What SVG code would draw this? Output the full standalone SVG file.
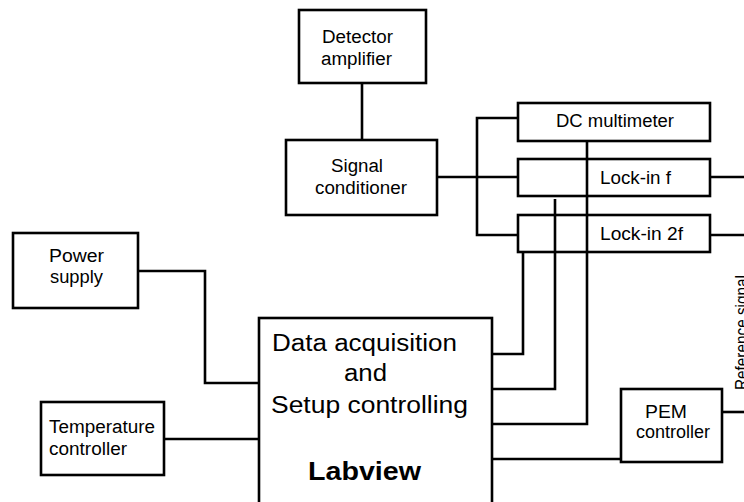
<svg xmlns="http://www.w3.org/2000/svg" width="744" height="502" viewBox="0 0 744 502">
<style>
.box{fill:#fff;stroke:#000;stroke-width:2.6}
.t{font-family:"Liberation Sans",Arial,sans-serif;font-size:18px;fill:#000}
.big{font-family:"Liberation Sans",Arial,sans-serif;font-size:23px;fill:#000}
.bold{font-family:"Liberation Sans",Arial,sans-serif;font-size:25px;font-weight:bold;fill:#000}
.c{fill:none;stroke:#000;stroke-width:2.6}
</style>
<rect width="744" height="502" fill="#fff"/>
<g id="detector">
<rect class="box" x="299" y="10" width="127" height="73"/>
<text class="t" x="322" y="43" textLength="71" lengthAdjust="spacingAndGlyphs">Detector</text>
<text class="t" x="321" y="65" textLength="71" lengthAdjust="spacingAndGlyphs">amplifier</text>
</g>
<g id="signal-conditioner">
<rect class="box" x="286" y="140" width="151" height="75"/>
<text class="t" x="331" y="172" textLength="52" lengthAdjust="spacingAndGlyphs">Signal</text>
<text class="t" x="315" y="194" textLength="92" lengthAdjust="spacingAndGlyphs">conditioner</text>
</g>
<g id="dc-multimeter">
<rect class="box" x="518" y="103" width="192" height="38"/>
<text class="t" x="556" y="127" textLength="118" lengthAdjust="spacingAndGlyphs">DC multimeter</text>
</g>
<g id="lockin-f">
<rect class="box" x="518" y="159" width="192" height="37"/>
<text class="t" x="600" y="184" textLength="71" lengthAdjust="spacingAndGlyphs">Lock-in f</text>
</g>
<g id="lockin-2f">
<rect class="box" x="518" y="215" width="192" height="37"/>
<text class="t" x="600" y="240" textLength="83" lengthAdjust="spacingAndGlyphs">Lock-in 2f</text>
</g>
<g id="power-supply">
<rect class="box" x="13" y="233" width="125" height="75"/>
<text class="t" x="49" y="262" textLength="55" lengthAdjust="spacingAndGlyphs">Power</text>
<text class="t" x="50" y="283" textLength="53" lengthAdjust="spacingAndGlyphs">supply</text>
</g>
<g id="temperature-controller">
<rect class="box" x="41" y="402" width="123" height="73"/>
<text class="t" x="49" y="433" textLength="106" lengthAdjust="spacingAndGlyphs">Temperature</text>
<text class="t" x="49" y="455" textLength="78" lengthAdjust="spacingAndGlyphs">controller</text>
</g>
<g id="labview">
<rect class="box" x="259" y="318" width="233" height="200"/>
<text class="big" x="272" y="351" textLength="185" lengthAdjust="spacingAndGlyphs">Data acquisition</text>
<text class="big" x="344" y="381" textLength="43" lengthAdjust="spacingAndGlyphs">and</text>
<text class="big" x="271" y="413" textLength="197" lengthAdjust="spacingAndGlyphs">Setup controlling</text>
<text class="bold" x="308" y="480" textLength="113" lengthAdjust="spacingAndGlyphs">Labview</text>
</g>
<g id="pem-controller">
<rect class="box" x="621" y="389" width="101" height="73"/>
<text class="t" x="645" y="418" textLength="42" lengthAdjust="spacingAndGlyphs">PEM</text>
<text class="t" x="636" y="438" textLength="74" lengthAdjust="spacingAndGlyphs">controller</text>
</g>
<g id="reference-label">
<text class="t" transform="translate(748,390) rotate(-90)" textLength="115" lengthAdjust="spacingAndGlyphs">Reference signal</text>
</g>
<g id="connectors">
<path class="c" d="M362 83V140"/>
<path class="c" d="M437 177H518"/>
<path class="c" d="M518 118H477V235H518"/>
<path class="c" d="M710 177H744"/>
<path class="c" d="M710 235H744"/>
<path class="c" d="M587 141V424H492"/>
<path class="c" d="M555 199V389H492"/>
<path class="c" d="M523 252V354H492"/>
<path class="c" d="M492 459H621"/>
<path class="c" d="M722 412H744"/>
<path class="c" d="M138 271H205V383H259"/>
<path class="c" d="M164 439H259"/>
</g>
</svg>
